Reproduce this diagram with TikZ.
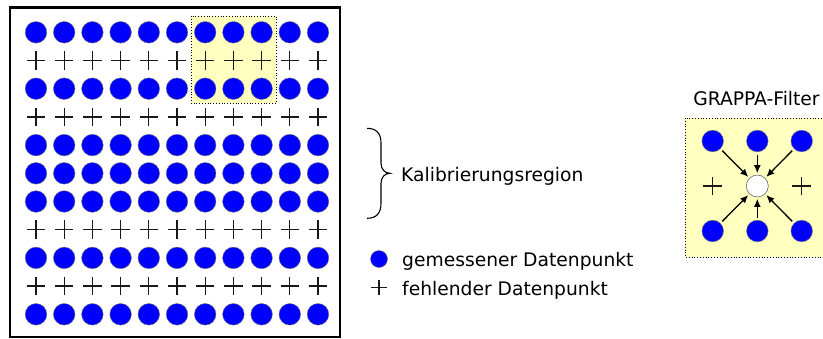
\documentclass[tikz,border=0pt]{standalone}
\usepackage{fontspec}
\setmainfont{DejaVu Sans}
\usetikzlibrary{shapes.misc,arrows.meta}
\definecolor{hl}{RGB}{255,255,192}
\definecolor{dotblue}{RGB}{0,0,255}
\tikzset{
  meas/.style={circle,fill=dotblue,draw=black!55,line width=0.4pt,minimum size=21.6pt,inner sep=0pt},
  miss/.style={cross out,draw=black!90,rotate=45,line width=1.3pt,minimum size=11.8pt,inner sep=0pt},
  target/.style={circle,fill=white,draw=black!60,line width=0.6pt,minimum size=22pt,inner sep=0pt},
  hlbox/.style={fill=hl,draw=black,dotted,line width=0.8pt},
  lbl/.style={font=\fontsize{18.7}{22}\selectfont,inner sep=0pt},
  flow/.style={-{Latex[length=8pt,width=7pt]},line width=1.3pt,shorten <=2.5pt,shorten >=1.5pt}
}
\begin{document}
\begin{tikzpicture}[x=1pt,y=-1pt]
\useasboundingbox (0,0) rectangle (823,338);
\clip (0,0) rectangle (823,338);
% highlight in the grid
\draw[hlbox] (191,16) rectangle (276,103);
% frame
\draw[line width=2.6pt] (10,7.5) rectangle (340,337);
% grid
\foreach \j in {0,...,10}{
  \foreach \i in {0,...,10}{
    \pgfmathsetmacro{\xx}{36+28.2*\i}
    \pgfmathsetmacro{\yy}{32.3+28.2*\j}
    \ifnum\j=1 \node[miss] (g-\i-\j) at (\xx,\yy) {};
    \else\ifnum\j=3 \node[miss] (g-\i-\j) at (\xx,\yy) {};
    \else\ifnum\j=7 \node[miss] (g-\i-\j) at (\xx,\yy) {};
    \else\ifnum\j=9 \node[miss] (g-\i-\j) at (\xx,\yy) {};
    \else \node[meas] (g-\i-\j) at (\xx,\yy) {};
    \fi\fi\fi\fi
  }
}
% brace
\draw[line width=1.1pt] (367,128.3) .. controls (376,128.3) and (381,133) .. (381,143)
  -- (381,163) .. controls (381,169.5) and (385,173.3) .. (390,173.3)
  .. controls (385,173.3) and (381,177) .. (381,183.5)
  -- (381,203.5) .. controls (381,213.5) and (376,218.3) .. (367,218.3);
\node[lbl,anchor=base west] (kal) at (401,181.7) {Kalibrierungsregion};
% legend
\node[meas,minimum size=17pt] (lm) at (379,259) {};
\node[lbl,anchor=base west] (lmt) at (402,266.5) {gemessener Datenpunkt};
\node[miss,minimum size=9.6pt] (lf) at (379,287.5) {};
\node[lbl,anchor=base west] (lft) at (402,295) {fehlender Datenpunkt};
% GRAPPA filter
\node[lbl,anchor=base] (title) at (756.5,105.7) {GRAPPA-Filter};
\draw[hlbox] (685,118) rectangle (830,257);
\node[meas] (f1) at (712.7,141) {};
\node[meas] (f2) at (757.3,141) {};
\node[meas] (f3) at (801.7,141) {};
\node[miss] (f4) at (712.7,186) {};
\node[target] (fc) at (757.3,186) {};
\node[miss] (f6) at (801.7,186) {};
\node[meas] (f7) at (712.7,231) {};
\node[meas] (f8) at (757.3,231) {};
\node[meas] (f9) at (801.7,231) {};
\foreach \n in {f1,f2,f3,f7,f8,f9}{
  \draw[flow] (\n) -- (fc);
}
\end{tikzpicture}
\end{document}
